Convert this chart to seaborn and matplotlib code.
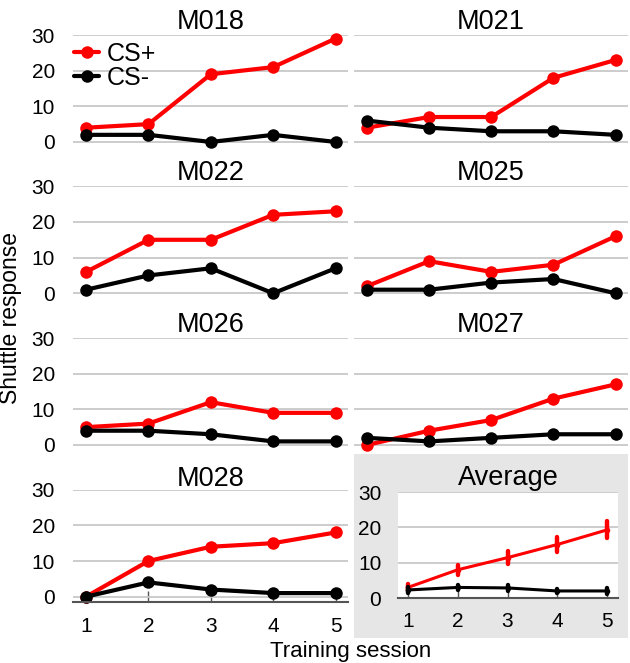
import numpy as np
import pandas as pd
import matplotlib
matplotlib.use("Agg")
import matplotlib.pyplot as plt
from matplotlib.patches import Rectangle
import seaborn as sns

# 資料
sessions = [1, 2, 3, 4, 5]
mice = ["M018", "M021", "M022", "M025", "M026", "M027", "M028"]
cs_plus = {
    "M018": [4, 5, 19, 21, 29],
    "M021": [4, 7, 7, 18, 23],
    "M022": [6, 15, 15, 22, 23],
    "M025": [2, 9, 6, 8, 16],
    "M026": [5, 6, 12, 9, 9],
    "M027": [0, 4, 7, 13, 17],
    "M028": [0, 10, 14, 15, 18],
}
cs_minus = {
    "M018": [2, 2, 0, 2, 0],
    "M021": [6, 4, 3, 3, 2],
    "M022": [1, 5, 7, 0, 7],
    "M025": [1, 1, 3, 4, 0],
    "M026": [4, 4, 3, 1, 1],
    "M027": [2, 1, 2, 3, 3],
    "M028": [0, 4, 2, 1, 1],
}

rows = []
for m in mice:
    for s, vp, vm in zip(sessions, cs_plus[m], cs_minus[m]):
        rows.append({"mouse": m, "session": s, "stimulus": "CS+", "response": vp})
        rows.append({"mouse": m, "session": s, "stimulus": "CS-", "response": vm})
df = pd.DataFrame(rows)

palette = {"CS+": "#ff0000", "CS-": "#000000"}
hue_order = ["CS+", "CS-"]

sns.set_theme(style="white")
plt.rcParams["font.family"] = ["Liberation Sans", "DejaVu Sans"]
plt.rcParams["text.color"] = "black"
plt.rcParams["xtick.labelcolor"] = "black"
plt.rcParams["ytick.labelcolor"] = "black"
plt.rcParams["axes.titlecolor"] = "black"

fig = plt.figure(figsize=(6.3, 6.63), dpi=100)

# 背景灰色區塊 (Average)
rect = Rectangle((354 / 630, (663 - 638) / 663), 274 / 630, (638 - 454) / 663,
                 transform=fig.transFigure, facecolor="#e6e6e6", edgecolor="none", zorder=-1)
fig.add_artist(rect)

col_x = [(73 / 630, 275 / 630), (354 / 630, 274 / 630)]
row_y = [0.7778, 0.5496, 0.3208, 0.0920]
panel_h = 112.3 / 663
grid_color = "#c8c8c8"
axis_color = "#555555"
tick_fs = 15
title_fs = 19.5


def style_axes(ax, left_labels, bottom_axis):
    ax.set_yticks([0, 10, 20, 30])
    ax.set_xticks(sessions)
    ax.yaxis.grid(True, color=grid_color, linewidth=1.3)
    ax.xaxis.grid(False)
    ax.set_axisbelow(True)
    for sp in ax.spines.values():
        sp.set_visible(False)
    ax.tick_params(axis="y", length=0, pad=13, labelsize=tick_fs, labelleft=left_labels)
    if bottom_axis:
        ax.spines["bottom"].set_visible(True)
        ax.spines["bottom"].set_color(axis_color)
        ax.spines["bottom"].set_linewidth(1.5)
        ax.tick_params(axis="x", direction="in", length=8, width=1, color=axis_color,
                       pad=11, labelsize=tick_fs, bottom=True)
    else:
        ax.tick_params(axis="x", length=0, labelbottom=False)
    ax.set_xlabel("")
    ax.set_ylabel("")


for i, m in enumerate(mice):
    r, c = divmod(i, 2)
    x0, w = col_x[c]
    ax = fig.add_axes([x0, row_y[r], w, panel_h])
    sns.lineplot(data=df[df["mouse"] == m], x="session", y="response", hue="stimulus",
                 hue_order=hue_order, palette=palette, marker="o", markersize=9,
                 markeredgewidth=0, linewidth=3, legend=False, clip_on=False, ax=ax)
    ax.set_xlim(0.79, 5.2)
    ax.set_ylim(-1.5, 30)
    style_axes(ax, left_labels=(c == 0), bottom_axis=(m == "M028"))
    ax.set_title(m, fontsize=title_fs, pad=3)
    if m == "M018":
        ax.legend(handles=ax.lines[:2], labels=hue_order, loc="upper left",
                  bbox_to_anchor=(-0.005, 0.96), frameon=False, fontsize=18,
                  handlelength=1.0, handletextpad=0.3, labelspacing=0.0,
                  borderaxespad=0, borderpad=0.1)

# 平均 + 標準誤
ax_avg = fig.add_axes([398 / 630, 0.0980, 220 / 630, 106 / 663])
ax_avg.set_facecolor("white")
sns.lineplot(data=df, x="session", y="response", hue="stimulus", hue_order=hue_order,
             palette=palette, errorbar="se", err_style="bars", err_kws={"linewidth": 3.2},
             marker="o", markersize=4, markeredgewidth=0, linewidth=2.2,
             legend=False, ax=ax_avg)
ax_avg.set_xlim(0.8, 5.22)
ax_avg.set_ylim(0, 30)
style_axes(ax_avg, left_labels=True, bottom_axis=True)
ax_avg.tick_params(axis="y", pad=12)
ax_avg.tick_params(axis="x", pad=10)
ax_avg.set_title("Average", fontsize=title_fs, pad=5)

fig.text(0.0167, 0.521, "Shuttle response", rotation=90, ha="center", va="center", fontsize=16.5)
fig.text(0.556, 0.017, "Training session", ha="center", va="center", fontsize=16)

fig.savefig("out.png", dpi=100)
